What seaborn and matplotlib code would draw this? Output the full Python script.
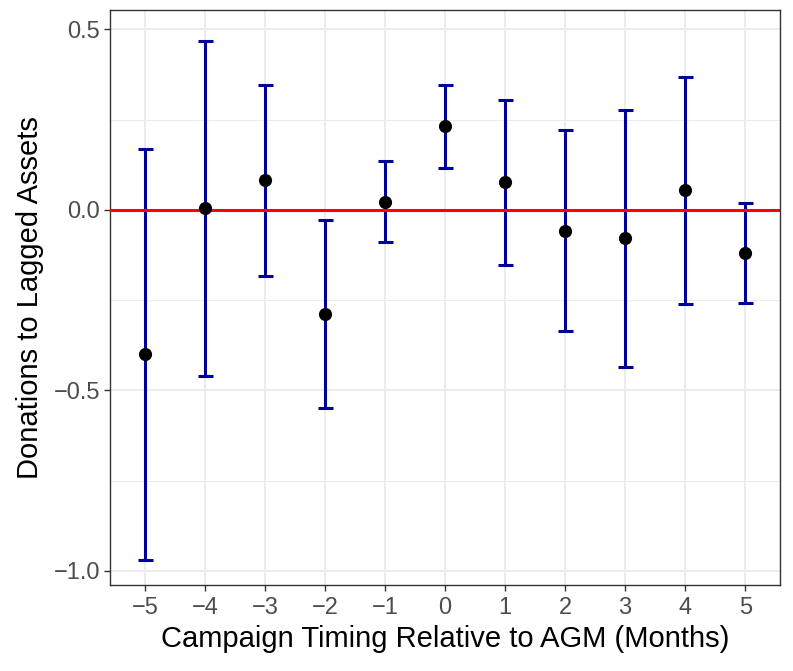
import numpy as np
import pandas as pd
import matplotlib
matplotlib.use("Agg")
import matplotlib.pyplot as plt
import seaborn as sns

# Estimates
months = [-5, -4, -3, -2, -1, 0, 1, 2, 3, 4, 5]
estimate = [-0.400, 0.005, 0.082, -0.288, 0.022, 0.232, 0.077, -0.057, -0.079, 0.054, -0.119]
ci_low = [-0.970, -0.460, -0.182, -0.548, -0.090, 0.117, -0.152, -0.336, -0.435, -0.261, -0.258]
ci_high = [0.168, 0.469, 0.347, -0.028, 0.135, 0.347, 0.305, 0.221, 0.276, 0.369, 0.020]

df = pd.DataFrame({"month": months, "est": estimate, "lo": ci_low, "hi": ci_high})

sns.set_theme(style="whitegrid")
plt.rcParams["font.family"] = ["Liberation Sans", "DejaVu Sans"]

fig = plt.figure(figsize=(7.93, 6.71), dpi=100)
ax = fig.add_axes([110 / 793, 1 - 585 / 671, 670 / 793, 575 / 671])

# error bars (ggplot geom_errorbar style)
ax.errorbar(df["month"], df["est"],
            yerr=[df["est"] - df["lo"], df["hi"] - df["est"]],
            fmt="none", ecolor="#000099", elinewidth=2.2,
            capsize=5.4, capthick=2.2, zorder=2)

ax.axhline(0, color="#FF0000", lw=2.2, zorder=3)

sns.scatterplot(data=df, x="month", y="est", color="black", s=90,
                edgecolor="black", linewidth=0, ax=ax, zorder=4)

ax.set_xlim(-5.58, 5.58)
ax.set_ylim(-1.039, 0.554)
ax.set_xticks(months)
ax.set_yticks([-1.0, -0.5, 0.0, 0.5])
ax.set_yticks([-0.75, -0.25, 0.25], minor=True)

ax.grid(which="major", color="#EBEBEB", lw=1.3)
ax.grid(which="minor", axis="y", color="#EBEBEB", lw=0.7)
ax.grid(which="minor", axis="x", visible=False)
ax.set_axisbelow(True)

for s in ax.spines.values():
    s.set_color("#333333")
    s.set_linewidth(1.0)
ax.tick_params(which="major", length=4, width=1.0, color="#333333",
               labelsize=17, labelcolor="#4D4D4D", pad=3)
ax.tick_params(axis="x", pad=5)
ax.tick_params(which="minor", length=0)
ax.tick_params(axis="x", bottom=True)
ax.tick_params(axis="y", left=True)

ax.set_xlabel("Campaign Timing Relative to AGM (Months)", fontsize=21, color="black", labelpad=4)
ax.set_ylabel("Donations to Lagged Assets", fontsize=21, color="black", labelpad=7)

fig.savefig("out.png", dpi=100)
